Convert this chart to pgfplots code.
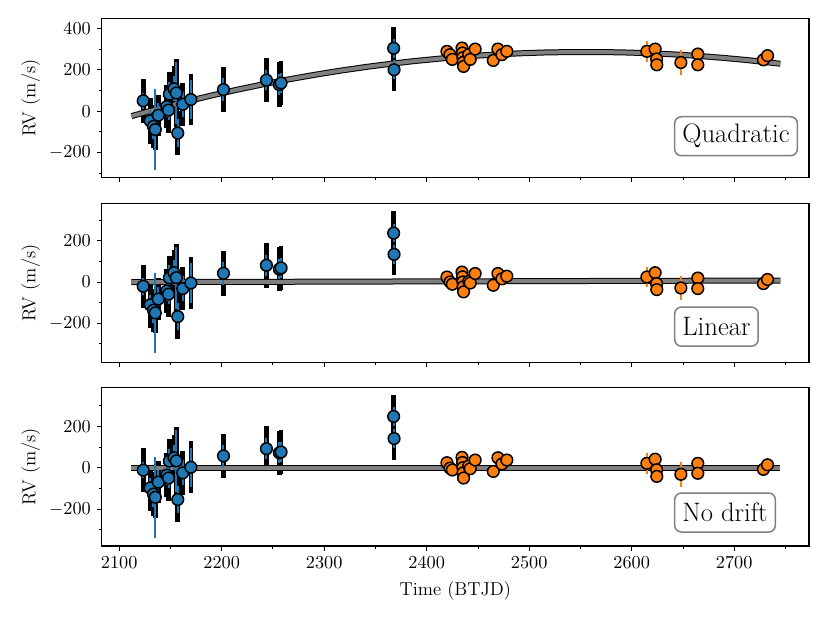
\documentclass[border=0pt]{standalone}
\usepackage{pgfplots}
\usepackage{pgfplotstable}
\pgfplotsset{compat=1.18}
\definecolor{c1}{HTML}{1F77B4}
\definecolor{c2}{HTML}{FF7F0E}
\definecolor{mgray}{HTML}{808080}

\pgfplotstableread{
x t m b bk bl
2123.5 50 -21 -12 105 40
2130.3 -47 -111 -98 110 50
2133.5 -74 -137 -128 105 60
2135.3 -89 -150 -143 100 195
2138.2 -20 -83 -70 100 60
2146.5 22 -44 -36 105 50
2148.2 5 -59 -50 110 50
2149.0 82 20 32 105 60
2153.5 108 45 48 110 60
2155.8 88 21 33 165 150
2157.2 -106 -168 -154 108 66
2162.1 33 -32 -25 105 60
2170.0 56 -5 2 125 95
2201.8 104 42 57 108 55
2243.7 150 81 92 108 50
2256.3 128 62 72 108 50
2258.0 136 68 76 105 50
2367.8 304 237 248 105 45
2368.2 200 134 141 102 45
}\bluedata

\pgfplotstableread{
x t m b e
2419.8 289 24 24 20
2422.8 273 0 -2 20
2425.0 250 -11 -11 20
2434.5 305 48 50 25
2435.0 281 25 25 20
2435.3 258 0 0 20
2435.6 236 -24 -25 20
2436.0 216 -48 -50 25
2441.0 273 3 8 20
2442.5 250 -5 -5 20
2447.3 300 41 37 20
2465.0 245 -16 -18 20
2469.5 300 41 48 20
2473.4 273 15 18 20
2478.2 289 28 37 20
2614.8 289 24 21 50
2622.9 300 45 41 20
2624.3 252 -8 -10 20
2624.5 224 -37 -42 20
2648.0 235 -29 -32 60
2664.5 276 19 21 20
2664.5 224 -32 -27 20
2728.5 248 -8 -8 20
2732.5 268 12 14 20
}\orangedata

\pgfplotstableread{
x t
2112 -24
2140 13.9
2165 45.7
2190 75.5
2215 103.4
2240 129.2
2265 153.1
2290 175.0
2315 195.0
2340 213.0
2365 229.0
2390 243.0
2415 255.0
2440 265.1
2465 273.2
2490 279.3
2515 283.5
2540 285.6
2565 285.8
2590 284.1
2615 280.3
2640 274.6
2665 266.9
2690 257.2
2715 245.6
2745 229.0
}\quadmodel

\pgfplotstableread{
x t
2112 -1
2745 7
}\linmodel

\pgfplotstableread{
x t
2112 0
2745 0
}\flatmodel

\pgfplotsset{
  panel/.style={
    scale only axis, width=424.4pt, height=95.2pt, anchor=south west,
    xmin=2083, xmax=2773,
    xtick={2100,2200,...,2700},
    minor xtick={2150,2250,...,2750},
    minor ytick={-300,-100,100,300},
    /pgf/number format/1000 sep={},
    tick align=outside, xtick pos=bottom, ytick pos=left,
    major tick length=3pt, minor tick length=1.8pt,
    every tick/.style={black, line width=0.5pt},
    axis line style={line width=0.8pt},
    tick label style={font=\fontsize{10.5}{12}\selectfont},
    label style={font=\fontsize{11.2}{13}\selectfont},
    ylabel={RV (m/s)},
    ylabel style={at={(axis description cs:-0.1004,0.5)}, anchor=center},
  },
  blackbar/.style={only marks, mark=none, forget plot,
    error bars/.cd, y dir=both, y explicit, error mark=none,
    error bar style={draw=black, line width=2.8pt}},
  bluebar/.style={only marks, mark=none, forget plot,
    error bars/.cd, y dir=both, y explicit, error mark=none,
    error bar style={draw=c1, line width=1.2pt}},
  orangebar/.style={only marks, mark=none, forget plot,
    error bars/.cd, y dir=both, y explicit, error mark=none,
    error bar style={draw=c2, line width=1.4pt}},
  bluemark/.style={only marks, mark=*, mark size=3.5pt,
    mark options={fill=c1, draw=black, line width=0.9pt}},
  orangemark/.style={only marks, mark=*, mark size=3.5pt,
    mark options={fill=c2, draw=black, line width=0.9pt}},
  modelb/.style={black, line width=3.6pt, forget plot},
  modelg/.style={mgray, line width=2.4pt, forget plot},
}
\tikzset{
  lbl/.style={draw=mgray, rounded corners=4pt, line width=0.9pt, fill=white,
    inner xsep=4.6pt, minimum height=23.4pt, anchor=west,
    font=\fontsize{16}{19}\selectfont},
}

\begin{document}
\begin{tikzpicture}
\path[use as bounding box] (-61.02pt,-46.2pt) rectangle (436.98pt,327.6pt);

% top panel
\begin{axis}[panel, at={(0pt,221.2pt)}, ymin=-320, ymax=447,
  ytick={-200,0,200,400}, xticklabels={}]
\addplot[blackbar] table[x=x, y=t, y error=bk] {\bluedata};
\addplot[modelb] table[x=x, y=t] {\quadmodel};
\addplot[modelg] table[x=x, y=t] {\quadmodel};
\addplot[bluebar] table[x=x, y=t, y error=bl] {\bluedata};
\addplot[orangebar] table[x=x, y=t, y error=e] {\orangedata};
\addplot[bluemark] table[x=x, y=t] {\bluedata};
\addplot[orangemark] table[x=x, y=t] {\orangedata};
\node[lbl] at (rel axis cs:0.809,0.259) {Quadratic};
\end{axis}

% middle panel
\begin{axis}[panel, at={(0pt,110.2pt)}, ymin=-390, ymax=380,
  ytick={-200,0,200}, xticklabels={}]
\addplot[blackbar] table[x=x, y=m, y error=bk] {\bluedata};
\addplot[modelb] table[x=x, y=t] {\linmodel};
\addplot[modelg] table[x=x, y=t] {\linmodel};
\addplot[bluebar] table[x=x, y=m, y error=bl] {\bluedata};
\addplot[orangebar] table[x=x, y=m, y error=e] {\orangedata};
\addplot[bluemark] table[x=x, y=m] {\bluedata};
\addplot[orangemark] table[x=x, y=m] {\orangedata};
\node[lbl] at (rel axis cs:0.809,0.225) {Linear};
\end{axis}

% bottom panel
\begin{axis}[panel, at={(0pt,0pt)}, ymin=-379, ymax=389,
  ytick={-200,0,200}, xlabel={Time (BTJD)},
  xlabel style={at={(axis description cs:0.5,0)}, anchor=center, yshift=-27pt}]
\addplot[blackbar] table[x=x, y=b, y error=bk] {\bluedata};
\addplot[modelb] table[x=x, y=t] {\flatmodel};
\addplot[modelg] table[x=x, y=t] {\flatmodel};
\addplot[bluebar] table[x=x, y=b, y error=bl] {\bluedata};
\addplot[orangebar] table[x=x, y=b, y error=e] {\orangedata};
\addplot[bluemark] table[x=x, y=b] {\bluedata};
\addplot[orangemark] table[x=x, y=b] {\orangedata};
\node[lbl] at (rel axis cs:0.809,0.211) {No drift};
\end{axis}
\end{tikzpicture}
\end{document}
